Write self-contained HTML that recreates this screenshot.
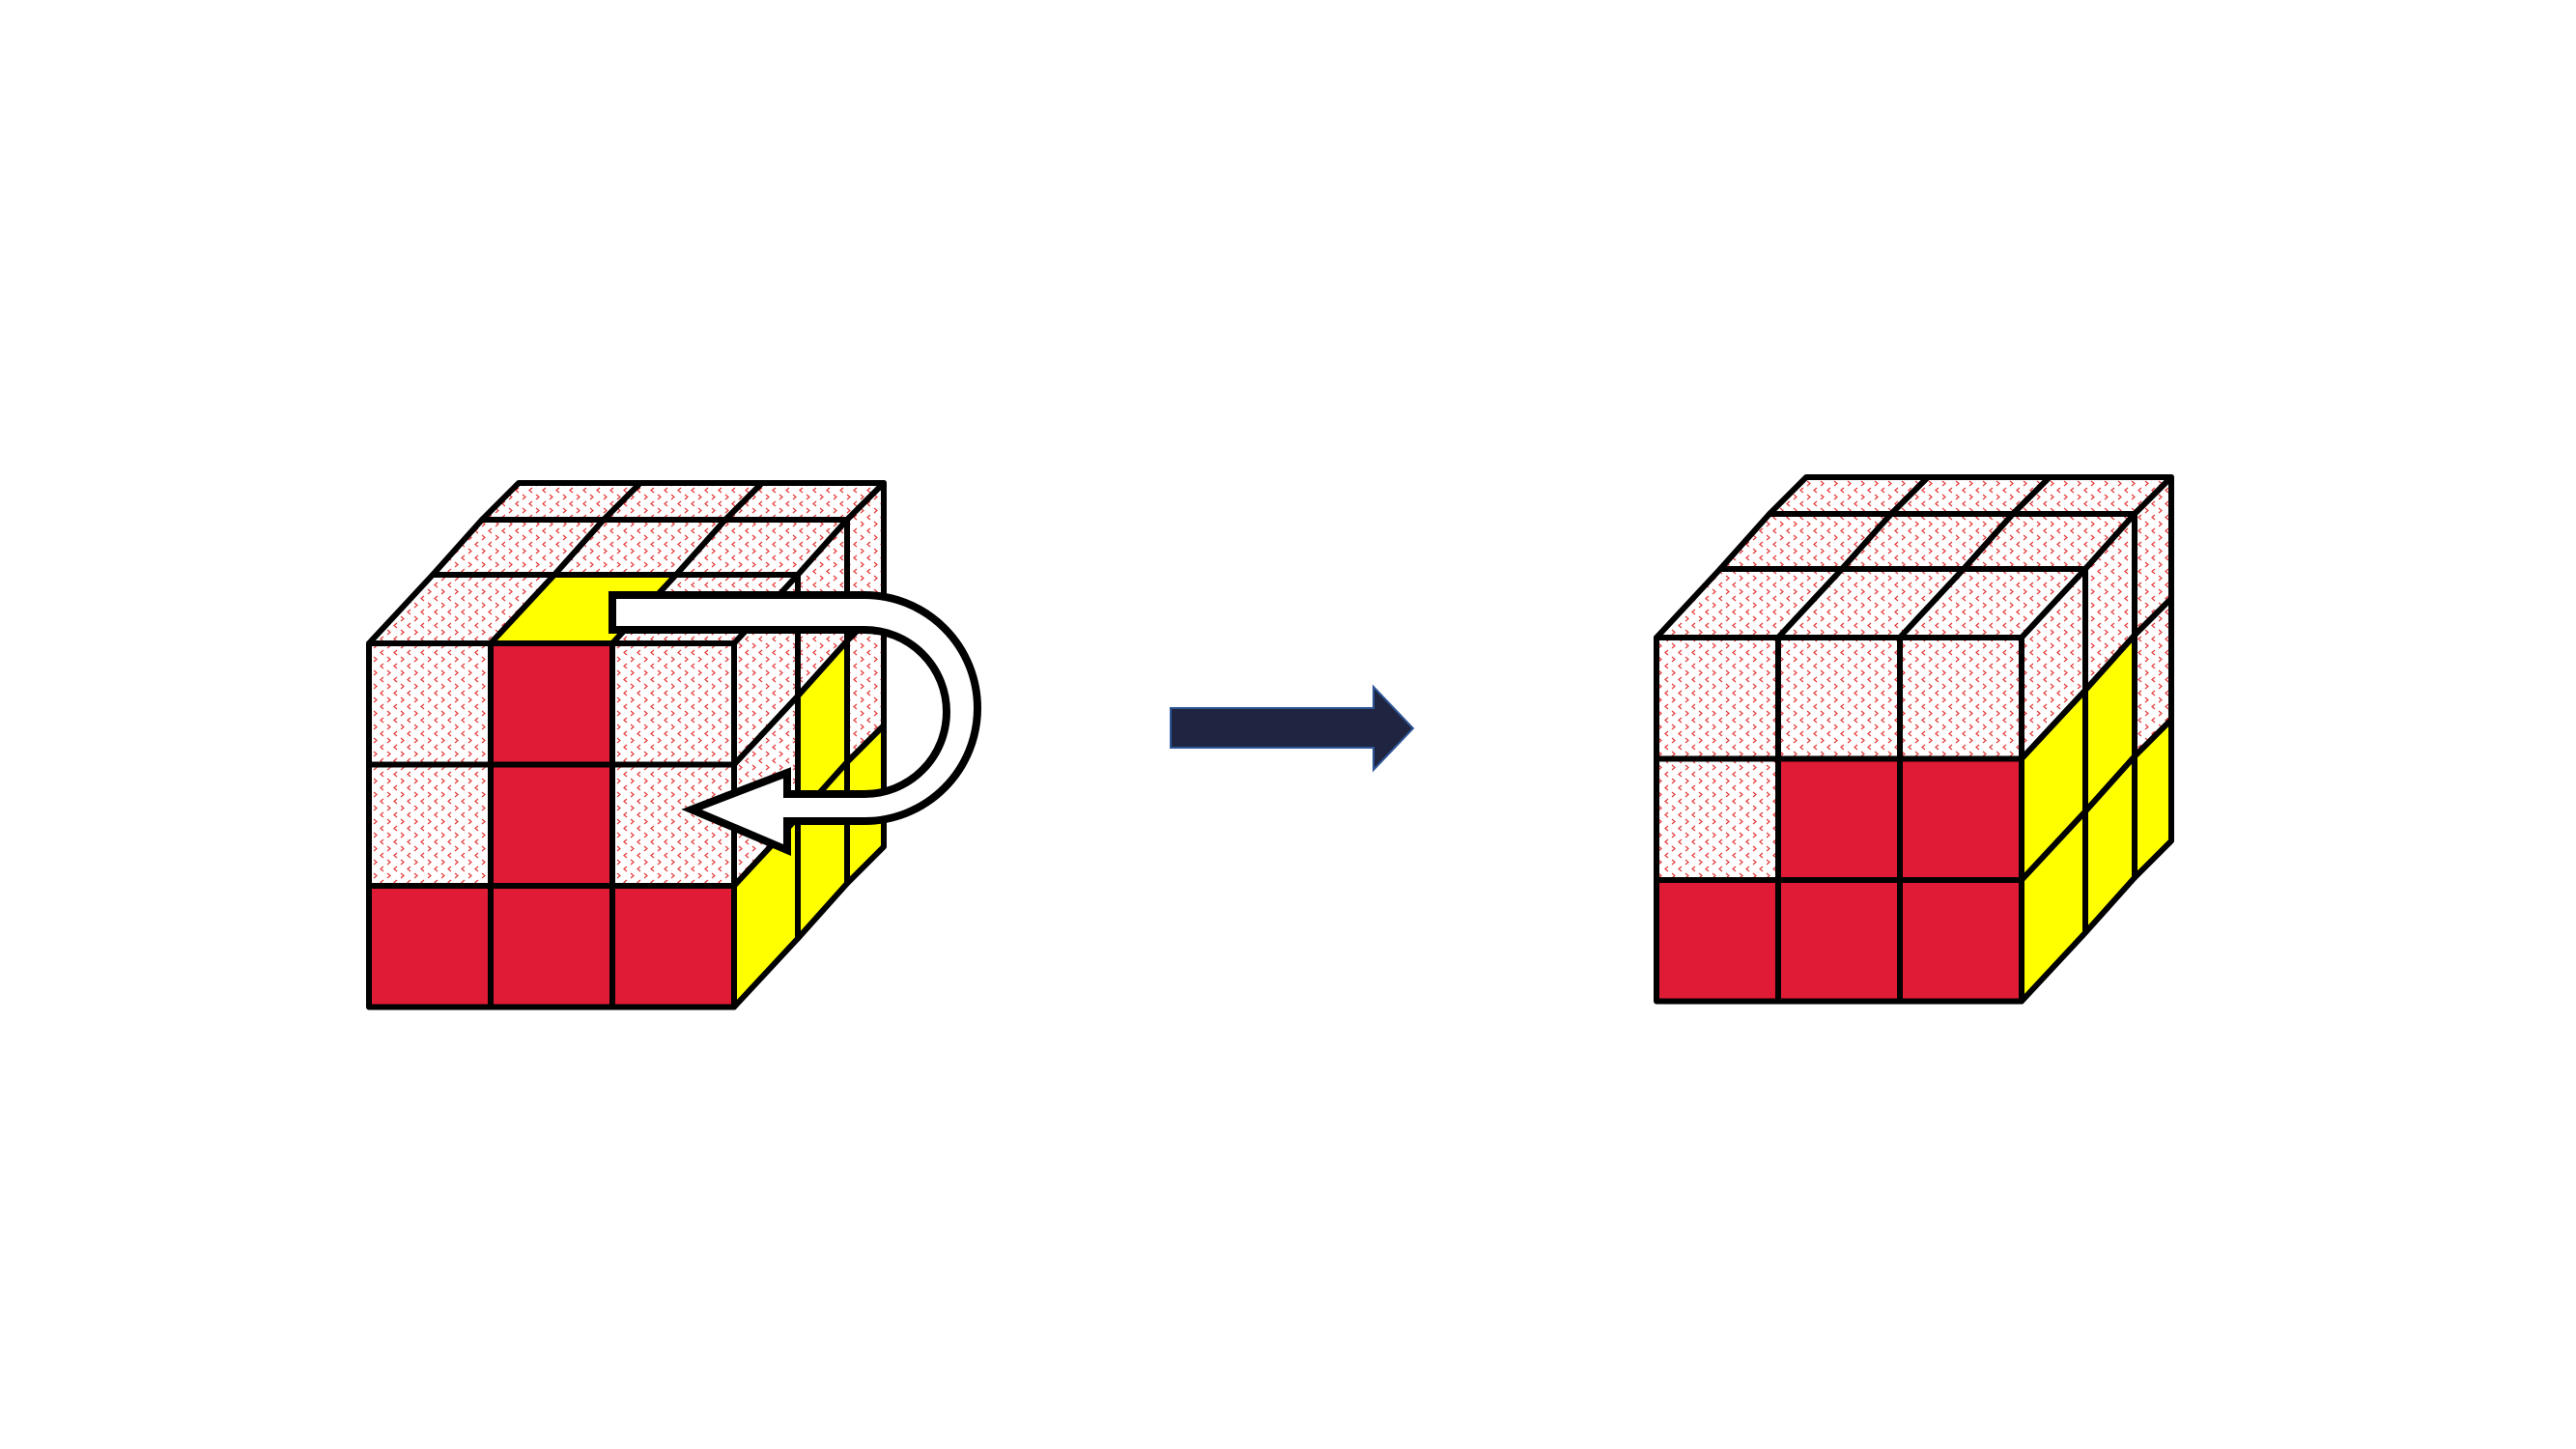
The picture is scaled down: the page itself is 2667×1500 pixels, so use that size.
<!DOCTYPE html>
<html><head><meta charset="utf-8"><style>
html,body{margin:0;padding:0;background:#fff;}
svg{display:block;}
</style></head><body>
<svg id="scene" xmlns="http://www.w3.org/2000/svg" width="2667" height="1500" viewBox="0 0 2667 1500">
<defs>
<pattern id="pat" width="14" height="14" patternUnits="userSpaceOnUse">
<rect width="14" height="14" fill="#fff"/>
<path d="M5,1 L2,3.5 L5,6" stroke="#e53a3a" stroke-width="1.2" fill="none"/>
<path d="M9,8 L12,10.5 L9,13" stroke="#e53a3a" stroke-width="1.2" fill="none"/>
</pattern>
</defs>
<g id="cubes"></g>
<g>
<polygon points="1212,733 1422,733 1422,711 1463,754 1422,797 1422,774 1212,774" fill="#1f2540" stroke="#2f5597" stroke-width="2"/>
</g>
<path d="M634,616 L895,616 A117,117 0 0 1 895,850 L815,850 L815,880 L716,838 L815,800 L815,822 L895,822 A85,85 0 0 0 895,652 L634,652 Z" fill="#fff" stroke="#000" stroke-width="8" stroke-linejoin="miter"/>
</svg>
<script>
const ox=[0,66,117,155], oy=[0,-71,-128,-166];
const cw=126, ch=125.5, W=378;
const C={P:'url(#pat)',R:'#e01b35',Y:'#ffff00'};
const leftFront=[['P','R','P'],['P','R','P'],['R','R','R']];
const leftTop=[['P','P','P'],['P','P','P'],['P','Y','P']];
const leftRight=[['P','P','P'],['P','Y','P'],['Y','Y','Y']];
const rightFront=[['P','P','P'],['P','R','R'],['R','R','R']];
const rightTop=[['P','P','P'],['P','P','P'],['P','P','P']];
const rightRight=[['P','P','P'],['Y','Y','P'],['Y','Y','Y']];
const g=document.getElementById('cubes');
function poly(pts,fill,name){
  const p=document.createElementNS('http://www.w3.org/2000/svg','polygon');
  p.setAttribute('points',pts.map(q=>q[0].toFixed(1)+','+q[1].toFixed(1)).join(' '));
  p.setAttribute('fill',fill);p.setAttribute('stroke','#000');p.setAttribute('stroke-width','6');p.setAttribute('stroke-linejoin','round');
  
  
  g.appendChild(p);
}
function cube(x0,y0,front,top,right,tag){
  for(let d=0;d<3;d++)for(let i=0;i<3;i++){
    const dd=2-d;
    const a=dd+1,b=dd;
    const pts=[[x0+i*cw+ox[a],y0+oy[a]],[x0+(i+1)*cw+ox[a],y0+oy[a]],[x0+(i+1)*cw+ox[b],y0+oy[b]],[x0+i*cw+ox[b],y0+oy[b]]];
    poly(pts,C[top[d][i]],tag+'-top-sticker');
  }
  for(let r=0;r<3;r++)for(let c=0;c<3;c++){
    const X=x0+W;
    const pts=[[X+ox[c],y0+r*ch+oy[c]],[X+ox[c+1],y0+r*ch+oy[c+1]],[X+ox[c+1],y0+(r+1)*ch+oy[c+1]],[X+ox[c],y0+(r+1)*ch+oy[c]]];
    poly(pts,C[right[r][c]],tag+'-right-sticker');
  }
  for(let r=0;r<3;r++)for(let c=0;c<3;c++){
    const pts=[[x0+c*cw,y0+r*ch],[x0+(c+1)*cw,y0+r*ch],[x0+(c+1)*cw,y0+(r+1)*ch],[x0+c*cw,y0+(r+1)*ch]];
    poly(pts,C[front[r][c]],tag+'-front-sticker');
  }
}
cube(382,666,leftFront,leftTop,leftRight,'before-cube');
cube(1715,660,rightFront,rightTop,rightRight,'after-cube');
</script>
</body></html>
